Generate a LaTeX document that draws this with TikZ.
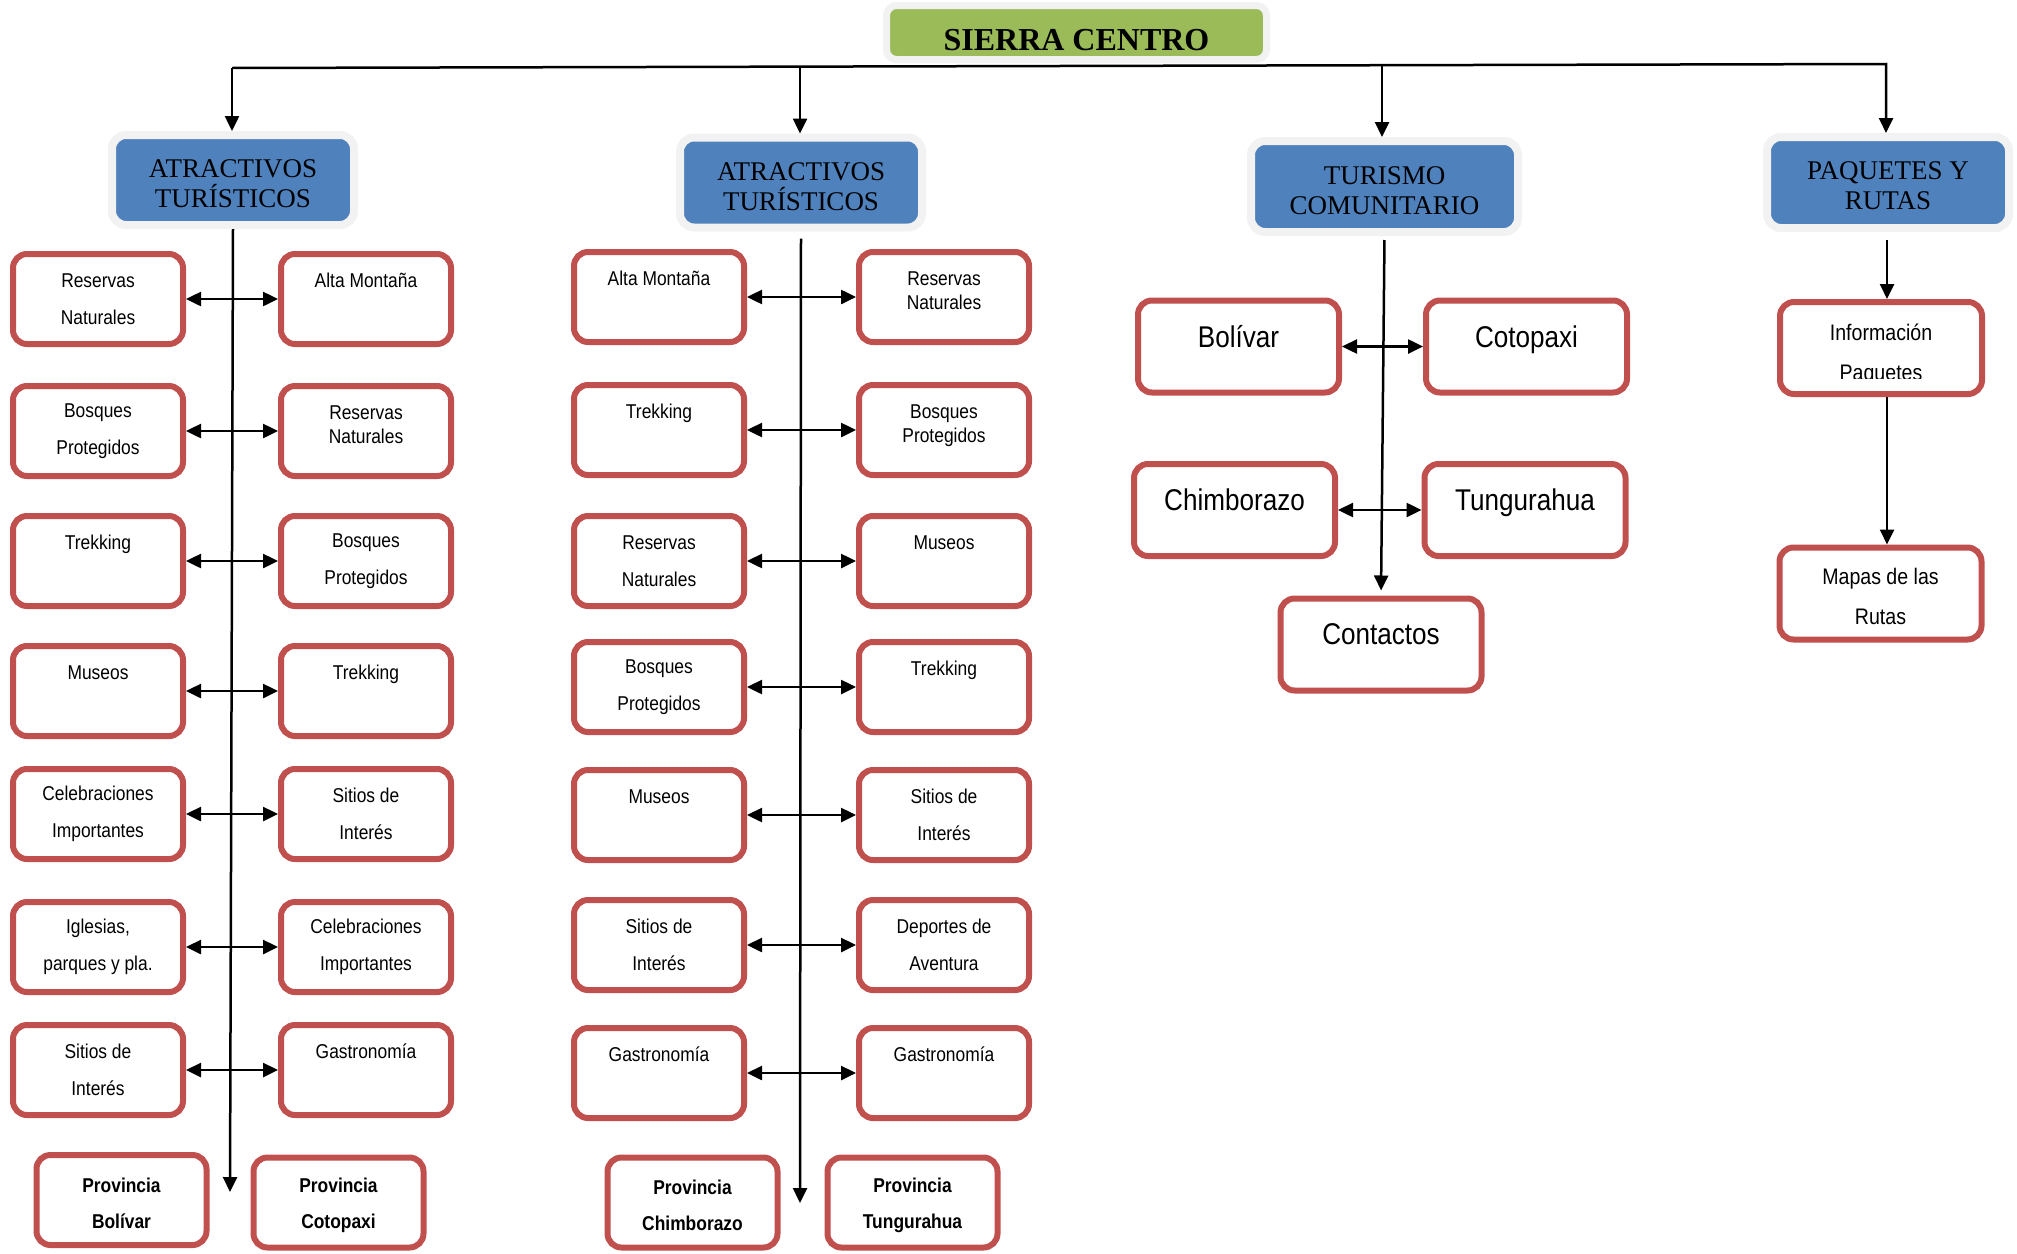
\documentclass[tikz,border=0pt]{standalone}
\usepackage{fontspec}
\setmainfont{Liberation Serif}
\newfontfamily\bxf[FakeStretch=0.87]{Liberation Sans}
\usetikzlibrary{arrows.meta}
\definecolor{bred}{HTML}{C0504D}
\definecolor{hblue}{HTML}{4F81BD}
\definecolor{hgreen}{HTML}{9BBB59}
\definecolor{hgray}{HTML}{F2F2F2}
\tikzset{
  lbox/.style={draw=bred, line width=6pt, rounded corners=14pt, fill=white,
    minimum width=170pt, minimum height=90pt, inner sep=0pt, align=center,
    font=\bxf\fontsize{20}{37}\selectfont},
  nbox/.style={lbox, font=\bxf\fontsize{20}{24}\selectfont},
  pbox/.style={lbox, font=\bxf\bfseries\fontsize{20}{36}\selectfont},
  cbox/.style={lbox, minimum width=201pt, minimum height=92pt,
    font=\bxf\fontsize{30}{20}\selectfont},
  ibox/.style={lbox, minimum width=202pt, minimum height=92pt,
    font=\bxf\fontsize{22.5}{40}\selectfont},
  hbox/.style={fill=hblue, draw=hgray, line width=8pt, rounded corners=14pt,
    minimum width=242pt, minimum height=90pt, inner sep=0pt, align=center,
    font=\fontsize{27}{30}\selectfont},
  topbox/.style={fill=hgreen, draw=hgray, line width=7pt, rounded corners=10pt,
    minimum width=380pt, minimum height=54pt, inner sep=0pt,
    font=\bfseries\fontsize{32}{36}\selectfont},
  arr/.style={line width=2.5pt, -{Triangle[length=15pt,width=14pt]}},
  darr/.style={line width=2.5pt, {Triangle[length=15pt,width=14pt]}-{Triangle[length=15pt,width=14pt]}},
}
\begin{document}
\begin{tikzpicture}[x=1pt,y=-1pt]
\useasboundingbox (0,0) rectangle (2017,1253);

% top
\node[topbox] (top) at (1076.5,32.5) {\rule{0pt}{37pt}SIERRA CENTRO};
\node[hbox] (h1) at (233,180) {\rule{0pt}{26pt}ATRACTIVOS\\TURÍSTICOS};
\node[hbox] (h2) at (801,182.5) {\rule{0pt}{26pt}ATRACTIVOS\\TURÍSTICOS};
\node[hbox, minimum width=267pt, minimum height=91pt] (h3) at (1384.5,186.5) {\rule{0pt}{26pt}TURISMO\\COMUNITARIO};
\node[hbox, minimum height=91pt] (h4) at (1888,182.5) {\rule{0pt}{24pt}PAQUETES Y\\RUTAS};

\coordinate (b1) at (232,68);
\coordinate (b2) at (800,66);
\coordinate (b3) at (1382,65);
\coordinate (b4) at (1886,64);
\draw[arr] (b1) -- (b4) -- (b4 |- h4.north);
\draw[arr] (b1) -- (b1 |- h1.north);
\draw[arr] (b2) -- (b2 |- h2.north);
\draw[arr] (b3) -- (b3 |- h3.north);

% column 1
\coordinate (e1) at (230,1192);
\draw[arr] (h1.south) -- (e1);
\node[lbox] (a1) at (98,299) {Reservas\\Naturales};
\node[lbox] (a2) at (98,431) {Bosques\\Protegidos};
\node[lbox] (a3) at (98,561) {Trekking\\\mbox{}};
\node[lbox] (a4) at (98,691) {Museos\\\mbox{}};
\node[lbox] (a5) at (98,814) {Celebraciones\\Importantes};
\node[lbox] (a6) at (98,947) {Iglesias,\\parques y pla.};
\node[lbox] (a7) at (98,1070) {Sitios de\\Interés};
\node[lbox] (c1) at (366,299) {Alta Montaña\\\mbox{}};
\node[nbox] (c2) at (366,431) {Reservas\\Naturales\\[-12pt]\mbox{}};
\node[lbox] (c3) at (366,561) {Bosques\\Protegidos};
\node[lbox] (c4) at (366,691) {Trekking\\\mbox{}};
\node[lbox] (c5) at (366,814) {Sitios de\\Interés};
\node[lbox] (c6) at (366,947) {Celebraciones\\Importantes};
\node[lbox] (c7) at (366,1070) {Gastronomía\\\mbox{}};
\foreach \i in {1,...,7} {\draw[darr] (a\i.east) -- (c\i.west);}
\node[pbox] (p1) at (121.5,1200) {\rule{0pt}{21pt}Provincia\\Bolívar};
\node[pbox] (p2) at (338.5,1202.5) {\rule{0pt}{21pt}Provincia\\Cotopaxi};

% column 2
\coordinate (e2) at (800,1203);
\draw[arr, shorten <=7pt] (h2.south) -- (e2);
\node[lbox] (d1) at (659,297) {Alta Montaña\\\mbox{}};
\node[lbox] (d2) at (659,430) {Trekking\\\mbox{}};
\node[lbox] (d3) at (659,561) {Reservas\\Naturales};
\node[lbox] (d4) at (659,687) {Bosques\\Protegidos};
\node[lbox] (d5) at (659,815) {Museos\\\mbox{}};
\node[lbox] (d6) at (659,945) {Sitios de\\Interés};
\node[lbox] (d7) at (659,1073) {Gastronomía\\\mbox{}};
\node[nbox] (f1) at (944,297) {Reservas\\Naturales\\[-12pt]\mbox{}};
\node[nbox] (f2) at (944,430) {Bosques\\Protegidos\\[-12pt]\mbox{}};
\node[lbox] (f3) at (944,561) {Museos\\\mbox{}};
\node[lbox] (f4) at (944,687) {Trekking\\\mbox{}};
\node[lbox] (f5) at (944,815) {Sitios de\\Interés};
\node[lbox] (f6) at (944,945) {Deportes de\\Aventura};
\node[lbox] (f7) at (944,1073) {Gastronomía\\\mbox{}};
\foreach \i in {1,...,7} {\draw[darr] (d\i.east) -- (f\i.west);}
\node[pbox] (p3) at (692.5,1202.5) {\rule{0pt}{21pt}Provincia\\Chimborazo};
\node[pbox] (p4) at (912.5,1202.5) {\rule{0pt}{21pt}Provincia\\Tungurahua};

% column 3
\node[cbox] (g1) at (1238.5,346.5) {Bolívar\\\mbox{}};
\node[cbox] (g2) at (1526.5,346.5) {Cotopaxi\\\mbox{}};
\node[cbox] (g3) at (1234.5,510) {Chimborazo\\\mbox{}};
\node[cbox] (g4) at (1525,510) {Tungurahua\\\mbox{}};
\node[cbox] (cont) at (1381,644.5) {Contactos\\\mbox{}};
\draw[arr, shorten <=4pt, shorten >=5pt] (h3.south) -- (cont.north);
\draw[darr] (g1.east) -- (g2.west);
\draw[darr] (g3.east) -- (g4.west);

% column 4
\node[ibox] (info) at (1881,348) {};
\begin{scope}
  \clip (1770,290) rectangle (1992,378);
  \node[ibox, draw=none, fill=none] (infot) at (1881,355) {Información\\Paquetes};
\end{scope}
\node[ibox] (mapas) at (1880.5,593.5) {\rule{0pt}{23pt}Mapas de las\\Rutas};
\draw[arr, shorten <=8pt] ([xshift=-1pt]h4.south) -- ([xshift=-1pt]h4.south |- info.north);
\draw[arr] ([xshift=6pt]info.south) -- ([xshift=6pt]info.south |- mapas.north);
\end{tikzpicture}
\end{document}
